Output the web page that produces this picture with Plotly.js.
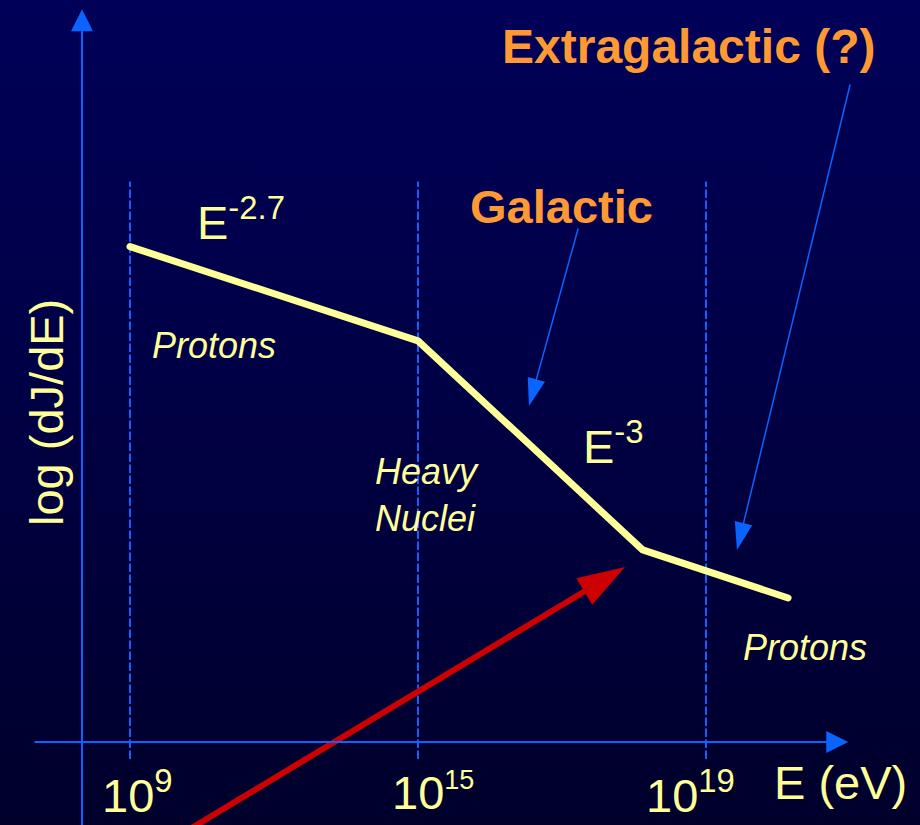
<!DOCTYPE html>
<html>
<head>
<meta charset="utf-8">
<script src="https://cdn.plot.ly/plotly-3.0.1.min.js"></script>
<style>
  html, body { margin: 0; padding: 0; }
  body { width: 920px; height: 825px; overflow: hidden;
         background: linear-gradient(to bottom, #000058 0%, #000046 45%, #00002b 100%); }
  #chart { width: 920px; height: 825px; }
</style>
</head>
<body>
<div id="chart"></div>
<script>
// ---- data (schematic units: x = position of energy decade marker, y = log flux, arbitrary) ----
const tickPos = [0, 1, 2];
const tickLabels = ['10<sup>9</sup>', '10<sup><span style="font-size:27px">15</span></sup>', '10<sup>19</sup>'];
const spectrumX = [0, 1, 1.78, 2.285];
const spectrumY = [1.72, 1.393, 0.667, 0.5];
const guideY = [-0.056, 1.944];
const galacticArrowX = [1.5556, 1.3854];
const galacticArrowY = [1.7813, 1.1667];
const extraArrowX = [2.5, 2.1076];
const extraArrowY = [2.2813, 0.6667];
const redArrowX = [0.2083, 1.7188];
const redArrowY = [-0.302, 0.6076];
const yAxisX = [-0.1667, -0.1667];
const yAxisY = [-0.30, 2.544];
const xAxisX = [-0.3368, 2.494];
const xAxisY = [0, 0];

// ---- helpers for layout placement (pixel -> axis units) ----
const X0 = -130 / 288, X1 = 790 / 288, Y0 = -83 / 288, Y1 = 742 / 288;
const px = p => X0 + (p / 920) * (X1 - X0);
const py = p => Y1 - (p / 825) * (Y1 - Y0);

const FONT = 'Liberation Sans, Arial, Helvetica, sans-serif';
const BLUE = '#0a64ff';
const YELLOW = '#ffff99';
const ORANGE = '#ff9933';
const RED = '#cc0000';

const traces = [];
// dashed guides
tickPos.forEach(t => traces.push({
  x: [t, t], y: guideY, mode: 'lines', hoverinfo: 'skip',
  line: { color: BLUE, width: 2, dash: '7px,4px' }
}));
// spectrum
traces.push({
  x: spectrumX, y: spectrumY, mode: 'lines', hoverinfo: 'skip',
  line: { color: YELLOW, width: 7 }, name: 'spectrum'
});
// pointer arrows
function arrowTrace(xs, ys, color, width, headSize) {
  return {
    x: xs, y: ys, mode: 'lines+markers', hoverinfo: 'skip',
    line: { color: color, width: width },
    marker: { symbol: 'arrow', angleref: 'previous', size: [0, headSize], opacity: 1,
              color: color, line: { width: 0 } }
  };
}
traces.push(arrowTrace(galacticArrowX, galacticArrowY, BLUE, 1.5, 29));
traces.push(arrowTrace(extraArrowX, extraArrowY, BLUE, 1.5, 29));
traces.push(arrowTrace(redArrowX, redArrowY, RED, 6, 50));

const ann = [];
// axes as arrows
ann.push({ x: yAxisX[1], y: yAxisY[1], ax: yAxisX[0], ay: yAxisY[0], xref: 'x', yref: 'y', axref: 'x', ayref: 'y',
  text: '', showarrow: true, arrowhead: 2, arrowwidth: 2, arrowsize: 2.2, arrowcolor: BLUE });
ann.push({ x: xAxisX[1], y: xAxisY[1], ax: xAxisX[0], ay: xAxisY[0], xref: 'x', yref: 'y', axref: 'x', ayref: 'y',
  text: '', showarrow: true, arrowhead: 2, arrowwidth: 2, arrowsize: 2.2, arrowcolor: BLUE });

function label(text, x, y, opts) {
  return Object.assign({ text: text, x: x, y: y, xref: 'x', yref: 'y', showarrow: false,
    xanchor: 'center', yanchor: 'middle',
    font: { family: FONT, size: 47, color: YELLOW } }, opts || {});
}
// tick labels
const tickShift = [7, 15, -16];
tickPos.forEach((t, i) => ann.push(label(tickLabels[i], t, py(798), { xshift: tickShift[i], yshift: 6 })));
ann.push(label('E (eV)', px(840), py(782)));
ann.push(label('log (dJ/dE)', px(46), py(413), { textangle: -90 }));
ann.push(label('E<sup>-2.7</sup>', px(195), py(219), { xanchor: 'left' }));
ann.push(label('E<sup>-3</sup>', px(581), py(443), { xanchor: 'left' }));
ann.push(label('<i>Protons</i>', px(150), py(345), { xanchor: 'left', font: { family: FONT, size: 36, color: YELLOW } }));
ann.push(label('<i>Heavy<br>Nuclei</i>', px(373), py(495), { xanchor: 'left', align: 'left', font: { family: FONT, size: 36, color: YELLOW } }));
ann.push(label('<i>Protons</i>', px(741), py(647), { xanchor: 'left', font: { family: FONT, size: 36, color: YELLOW } }));
ann.push(label('<b>Galactic</b>', px(561), py(206), { font: { family: FONT, size: 47, color: ORANGE } }));
ann.push(label('<b>Extragalactic (?)</b>', px(688), py(46), { font: { family: FONT, size: 48, color: ORANGE } }));

const layout = {
  width: 920, height: 825,
  margin: { l: 0, r: 0, t: 0, b: 0, pad: 0 },
  paper_bgcolor: 'rgba(0,0,0,0)', plot_bgcolor: 'rgba(0,0,0,0)',
  showlegend: false,
  xaxis: { range: [X0, X1], visible: false, fixedrange: true },
  yaxis: { range: [Y0, Y1], visible: false, fixedrange: true },
  annotations: ann
};
Plotly.newPlot('chart', traces, layout, { staticPlot: true, displayModeBar: false }).then(gd => {
  // rounded ends on the thick spectrum line
  const lines = gd.querySelectorAll('.scatterlayer .trace .js-line');
  lines.forEach(l => { l.style.strokeLinecap = 'round'; l.style.strokeLinejoin = 'round'; });
});
</script>
</body>
</html>
